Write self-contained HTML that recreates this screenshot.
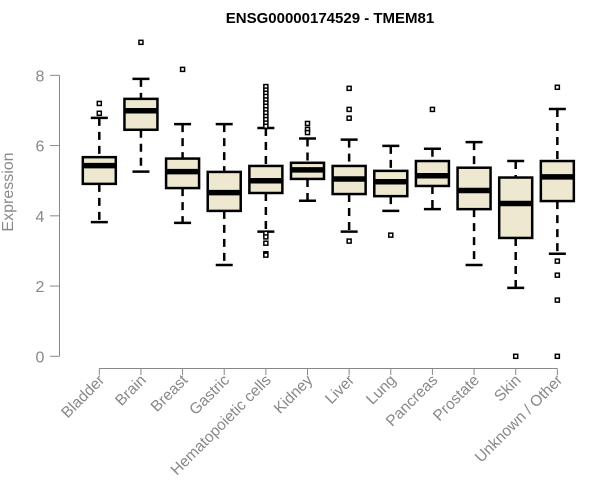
<!DOCTYPE html>
<html><head><meta charset="utf-8"><style>
body{margin:0;background:#fff}
svg{display:block;font-family:"Liberation Sans",Arial,sans-serif}
</style></head><body>
<svg id="chart" width="600" height="500">
<text x="330" y="23" text-anchor="middle" font-weight="bold" font-size="15">ENSG00000174529 - TMEM81</text>
<text transform="translate(13,192) rotate(-90)" text-anchor="middle" font-size="16" fill="#888">Expression</text>
<g id="yaxis"></g>
<g id="xaxis"></g>
<g id="boxes"></g>
</svg>
<script>
const categories=["Bladder","Brain","Breast","Gastric","Hematopoietic cells","Kidney","Liver","Lung","Pancreas","Prostate","Skin","Unknown / Other"];
const lowerWhisker=[3.82,5.26,3.80,2.60,3.55,4.43,3.55,4.14,4.19,2.60,1.95,2.92];
const q1=[4.91,6.45,4.79,4.14,4.65,5.05,4.62,4.56,4.85,4.19,3.37,4.42];
const medians=[5.43,6.99,5.26,4.66,5.00,5.31,5.05,4.97,5.14,4.72,4.35,5.11];
const q3=[5.67,7.33,5.63,5.25,5.42,5.51,5.42,5.28,5.56,5.37,5.09,5.56];
const upperWhisker=[6.79,7.90,6.61,6.61,6.50,6.20,6.17,5.99,5.91,6.10,5.56,7.04];
const outliers=[[7.20,6.92],[8.94],[8.17],[],[7.68,7.58,7.49,7.40,7.30,7.21,7.12,7.02,6.93,6.83,6.74,6.64,6.55,3.50,3.40,3.22,2.92,2.88],[6.63,6.46,6.37],[7.63,7.03,6.78,3.28],[3.45],[7.03],[],[0],[7.66,2.71,2.31,1.60,0]];
const yTicks=[0,2,4,6,8];
const NS="http://www.w3.org/2000/svg";
const y=v=>356.3-v*35.12;
const x=i=>99.3+i*41.64;
function mk(p,t,a){const e=document.createElementNS(NS,t);for(const k in a)e.setAttribute(k,a[k]);p.appendChild(e);return e;}
const ya=document.getElementById('yaxis'),xa=document.getElementById('xaxis'),bx=document.getElementById('boxes');
mk(ya,'line',{x1:59.5,x2:59.5,y1:y(0),y2:y(8),stroke:'#888'});
yTicks.forEach(t=>{
 let tk=mk(ya,'line',{x1:50,x2:59.5,y1:y(t),y2:y(t),stroke:'#888'});
 
 
 let tx=mk(ya,'text',{x:40,y:y(t)+6,'text-anchor':'middle','font-size':16,fill:'#888'});
 tx.textContent=t;
 
 
});
mk(xa,'line',{x1:x(0),x2:x(categories.length-1),y1:368.5,y2:368.5,stroke:'#888'});
categories.forEach((c,i)=>{
 let tk=mk(xa,'line',{x1:x(i),x2:x(i),y1:368.5,y2:375,stroke:'#888'});
 
 
 let tx=mk(xa,'text',{transform:`translate(${x(i)+6},${381}) rotate(-45)`,'text-anchor':'end','font-size':15.5,fill:'#888'});
 tx.textContent=c;
 
 
 const g=mk(bx,'g',{});
 
 
 const cx=x(i);
 mk(g,'line',{x1:cx,x2:cx,y1:y(upperWhisker[i]),y2:y(q3[i]),stroke:'#000','stroke-width':2.5,'stroke-dasharray':'8,6'});
 mk(g,'line',{x1:cx,x2:cx,y1:y(q1[i]),y2:y(lowerWhisker[i]),stroke:'#000','stroke-width':2.5,'stroke-dasharray':'8,6'});
 mk(g,'line',{x1:cx-8.5,x2:cx+8.5,y1:y(upperWhisker[i]),y2:y(upperWhisker[i]),stroke:'#000','stroke-width':2.5});
 mk(g,'line',{x1:cx-8.5,x2:cx+8.5,y1:y(lowerWhisker[i]),y2:y(lowerWhisker[i]),stroke:'#000','stroke-width':2.5});
 mk(g,'rect',{x:cx-16.5,y:y(q3[i]),width:33,height:y(q1[i])-y(q3[i]),fill:'#ede8cf',stroke:'#000','stroke-width':2.5});
 mk(g,'line',{x1:cx-16.5,x2:cx+16.5,y1:y(medians[i]),y2:y(medians[i]),stroke:'#000','stroke-width':5.5});
 outliers[i].forEach(o=>{
  let r=mk(g,'rect',{x:cx-2,y:y(o)-2,width:4,height:4,fill:'#fff',stroke:'#000','stroke-width':1.5});
  
  
 });
});
</script>
</body></html>
